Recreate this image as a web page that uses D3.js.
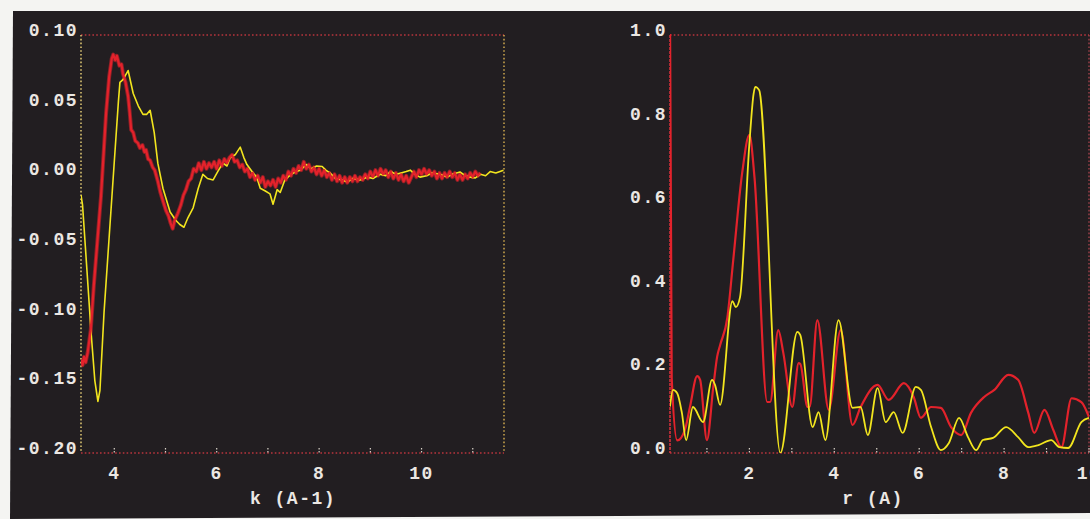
<!DOCTYPE html>
<html>
<head>
<meta charset="utf-8">
<script src="https://cdn.jsdelivr.net/npm/d3@7"></script>
<style>
  html, body { margin: 0; padding: 0; background: #f4f4f2; }
  svg { display: block; }
  .lbl { font-family: "Liberation Mono", monospace; font-weight: bold; font-size: 18px; fill: #ebe7e3; letter-spacing: 1.5px; }
</style>
</head>
<body>
<div id="chart"></div>
<script>
// ---- data ----
// left panel: chi(k)
const kMajor = [4, 6, 8, 10];
const kMinor = [5, 7, 9, 11];
const chiTicks = [0.10, 0.05, 0.00, -0.05, -0.10, -0.15, -0.20];

const chiYellow = [
  [3.35,-0.015],[3.38,-0.022],[3.45,-0.06],[3.55,-0.115],[3.62,-0.148],[3.68,-0.163],[3.72,-0.155],
  [3.8,-0.099],[3.9,-0.045],[4.0,0.009],[4.08,0.052],[4.11,0.066],[4.17,0.068],[4.27,0.0745],
  [4.37,0.058],[4.47,0.049],[4.56,0.043],[4.63,0.043],[4.70,0.046],[4.78,0.03],[4.85,0.008],
  [4.95,-0.01],[5.09,-0.027],[5.2,-0.033],[5.28,-0.036],[5.36,-0.038],[5.44,-0.031],[5.54,-0.024],
  [5.64,-0.01],[5.73,0.0],[5.82,-0.003],[5.93,-0.004],[6.02,0.002],[6.12,0.008],[6.2,0.006],
  [6.26,0.012],[6.36,0.014],[6.46,0.0195],[6.53,0.012],[6.59,0.007],[6.71,0.001],[6.78,-0.002],
  [6.85,-0.01],[6.95,-0.012],[7.04,-0.014],[7.1,-0.0215],[7.18,-0.011],[7.24,-0.013],[7.33,-0.004],
  [7.45,0.0],[7.55,0.002],[7.63,0.003],[7.75,0.007],[7.85,0.004],[7.95,0.006],[8.06,0.0056],
  [8.13,0.003],[8.21,0.001],[8.32,-0.003],[8.45,-0.004],[8.55,-0.0055],[8.65,-0.003],[8.8,-0.004],
  [8.95,-0.002],[9.05,-0.003],[9.19,0.0],[9.3,-0.001],[9.4,0.002],[9.5,0.0],[9.6,0.001],[9.7,0.002],
  [9.78,0.003],[9.87,0.0],[9.97,-0.002],[10.1,-0.001],[10.2,0.001],[10.36,0.0],[10.5,-0.002],
  [10.6,0.0],[10.75,0.0017],[10.85,-0.001],[10.95,-0.002],[11.05,-0.0026],[11.15,0.0],[11.25,-0.001],
  [11.34,0.002],[11.45,0.001],[11.6,0.003]
];

const chiRed = [
  [3.35,-0.133],[3.38,-0.137],[3.41,-0.131],[3.44,-0.135],[3.48,-0.128],[3.54,-0.112],[3.6,-0.08],
  [3.67,-0.048],[3.74,-0.016],[3.8,0.02],[3.84,0.044],[3.9,0.07],[3.95,0.083],[3.98,0.086],[4.02,0.082],
  [4.05,0.085],[4.1,0.078],[4.14,0.079],[4.17,0.072],[4.22,0.066],[4.27,0.056],[4.3,0.045],[4.33,0.032],
  [4.37,0.03],[4.41,0.024],[4.46,0.0225],[4.5,0.019],[4.55,0.021],[4.59,0.016],[4.62,0.0175],[4.66,0.011],
  [4.7,0.01],[4.75,0.005],[4.79,0.003],[4.85,-0.005],[4.9,-0.013],[4.95,-0.019],[5.01,-0.026],[5.06,-0.03],
  [5.1,-0.035],[5.14,-0.039],[5.18,-0.033],[5.24,-0.028],[5.3,-0.022],[5.35,-0.015],[5.4,-0.011],
  [5.45,-0.005],[5.5,-0.003],[5.55,0.004],[5.6,0.002],[5.65,0.008],[5.7,0.003],[5.75,0.009],[5.8,0.004],
  [5.85,0.008],[5.9,0.005],[5.95,0.009],[6.0,0.004],[6.05,0.01],[6.1,0.006],[6.15,0.011],[6.2,0.008],
  [6.25,0.012],[6.3,0.014],[6.35,0.009],[6.4,0.01],[6.45,0.005],[6.5,0.007],[6.55,0.002],[6.6,0.004],
  [6.65,-0.002],[6.7,0.001],[6.75,-0.004],[6.8,-0.001],[6.85,-0.006],[6.9,-0.002],[6.95,-0.009],
  [7.0,-0.005],[7.05,-0.008],[7.1,-0.004],[7.15,-0.009],[7.2,-0.003],[7.25,-0.006],[7.3,-0.001],
  [7.35,-0.004],[7.4,0.002],[7.45,-0.001],[7.5,0.004],[7.55,0.001],[7.6,0.006],[7.65,0.003],[7.7,0.009],
  [7.75,0.004],[7.8,0.007],[7.85,0.002],[7.9,0.005],[7.95,0.0],[8.0,0.004],[8.05,-0.001],[8.1,0.003],
  [8.15,-0.002],[8.2,0.001],[8.25,-0.004],[8.3,0.0],[8.35,-0.005],[8.4,-0.001],[8.45,-0.006],[8.5,-0.002],
  [8.55,-0.006],[8.6,-0.002],[8.65,-0.005],[8.7,-0.001],[8.75,-0.005],[8.8,-0.002],[8.85,-0.004],
  [8.9,0.0],[8.95,-0.003],[9.0,0.002],[9.05,-0.002],[9.1,0.003],[9.15,-0.001],[9.2,0.004],[9.25,0.0],
  [9.3,0.003],[9.35,-0.002],[9.4,0.002],[9.45,-0.003],[9.5,0.001],[9.55,-0.004],[9.6,0.0],[9.65,-0.005],
  [9.7,-0.001],[9.75,-0.006],[9.8,-0.002],[9.85,0.002],[9.9,-0.002],[9.95,0.003],[10.0,0.0],[10.05,0.004],
  [10.1,0.0],[10.15,0.003],[10.2,-0.001],[10.25,0.002],[10.3,-0.003],[10.35,0.001],[10.4,-0.003],
  [10.45,0.001],[10.5,-0.002],[10.55,0.002],[10.6,-0.002],[10.65,0.001],[10.7,-0.004],[10.75,0.0],
  [10.8,-0.004],[10.85,0.0],[10.9,-0.003],[10.95,0.001],[11.0,-0.002],[11.05,0.002],[11.1,-0.001],[11.15,0.001]
];

// right panel: |FT| vs r
const rMajor = [2, 4, 6, 8, 10];
const rMinor = [1, 3, 5, 7, 9];
const ftTicks = [0.0, 0.2, 0.4, 0.6, 0.8, 1.0];

const ftYellow = [
  [0.13,0.111],[0.2,0.151],[0.3,0.143],[0.41,0.096],[0.51,0.031],[0.67,0.11],[0.91,0.074],[1.12,0.175],
  [1.19,0.163],[1.31,0.115],[1.6,0.363],[1.68,0.349],[1.78,0.373],[2.0,0.74],[2.1,0.86],[2.14,0.876],
  [2.23,0.868],[2.73,0.0],[3.13,0.29],[3.2,0.282],[3.49,0.062],[3.63,0.098],[3.79,0.031],[4.1,0.318],
  [4.43,0.108],[4.62,0.11],[4.79,0.043],[5.02,0.155],[5.21,0.074],[5.40,0.098],[5.61,0.048],[5.92,0.158],
  [6.04,0.151],[6.28,0.062],[6.51,0.007],[6.7,0.024],[6.94,0.084],[7.15,0.038],[7.34,0.007],[7.5,0.031],
  [7.74,0.036],[8.05,0.062],[8.33,0.038],[8.57,0.014],[8.81,0.019],[9.11,0.031],[9.3,0.014],[9.51,0.012],
  [9.82,0.074],[10.0,0.084]
];

const ftRed = [
  [0.13,1.05],[0.17,0.18],[0.3,0.03],[0.48,0.055],[0.6,0.11],[0.77,0.184],[0.84,0.175],[1.0,0.031],
  [1.15,0.158],[1.24,0.23],[1.31,0.258],[1.48,0.323],[1.62,0.462],[1.83,0.67],[2.0,0.761],[2.12,0.66],
  [2.42,0.122],[2.49,0.122],[2.68,0.294],[2.8,0.239],[3.01,0.11],[3.16,0.215],[3.2,0.213],[3.37,0.11],
  [3.42,0.11],[3.6,0.318],[3.87,0.103],[4.15,0.294],[4.43,0.067],[4.62,0.11],[5.02,0.163],[5.28,0.127],
  [5.64,0.167],[5.87,0.134],[6.04,0.084],[6.28,0.11],[6.51,0.108],[6.75,0.062],[6.99,0.043],[7.22,0.096],
  [7.53,0.134],[7.77,0.151],[8.1,0.187],[8.33,0.175],[8.57,0.096],[8.71,0.048],[8.95,0.103],[9.16,0.055],
  [9.35,0.014],[9.59,0.131],[9.82,0.122],[10.0,0.086]
];

// ---- layout ----
const W = 1090, H = 519;
const yellow = "#f2e51e", red = "#e3222b";
const plotTop = 35, plotBottom = 453;

const svg = d3.select("#chart").append("svg")
    .attr("width", W).attr("height", H);

// dark photo background (scan has white edges top and bottom-right)
svg.append("path")
    .attr("d", `M13,11 L${W},11 L${W},513 L620,516 L10,519 Z`)
    .attr("fill", "#221e21");

function panel(opts) {
  const x = d3.scaleLinear().domain(opts.xDomain).range([opts.left, opts.right]);
  const y = d3.scaleLinear().domain(opts.yDomain).range([plotBottom, plotTop]);
  const g = svg.append("g");

  const clipId = opts.id + "-clip";
  svg.append("clipPath").attr("id", clipId)
    .append("rect")
    .attr("x", opts.left).attr("y", plotTop - 1)
    .attr("width", opts.right - opts.left).attr("height", plotBottom - plotTop + 1);

  // frame: dotted top/bottom in red, sides in the side colour
  const dash = "1.6,2.2";
  g.append("line").attr("x1", opts.left).attr("x2", opts.right).attr("y1", plotTop).attr("y2", plotTop)
    .attr("stroke", "#b8343c").attr("stroke-width", 1.3).attr("stroke-dasharray", dash);
  g.append("line").attr("x1", opts.left).attr("x2", opts.right).attr("y1", plotBottom).attr("y2", plotBottom)
    .attr("stroke", "#b8343c").attr("stroke-width", 1.3).attr("stroke-dasharray", dash);
  g.append("line").attr("x1", opts.left).attr("x2", opts.left).attr("y1", plotTop).attr("y2", plotBottom)
    .attr("stroke", opts.sideColor).attr("stroke-width", 1.6).attr("stroke-dasharray", opts.leftDash);
  g.append("line").attr("x1", opts.right).attr("x2", opts.right).attr("y1", plotTop).attr("y2", plotBottom)
    .attr("stroke", opts.rightColor).attr("stroke-width", 1.4).attr("stroke-dasharray", dash);

  // x ticks (small marks above the bottom line)
  g.selectAll(".xt").data(opts.xMajor.concat(opts.xMinor)).join("line")
    .attr("x1", d => x(d)).attr("x2", d => x(d))
    .attr("y1", plotBottom - 5).attr("y2", plotBottom)
    .attr("stroke", "#d9d2c8").attr("stroke-width", 1.2).attr("stroke-dasharray", "1.5,1.5");

  g.selectAll(".xl").data(opts.xMajor).join("text")
    .attr("class", "lbl")
    .attr("x", d => x(d)).attr("y", plotBottom + 26)
    .attr("text-anchor", "middle")
    .text(d => d);

  g.selectAll(".yl").data(opts.yTicks).join("text")
    .attr("class", "lbl")
    .attr("x", opts.left - 3).attr("y", d => y(d) + 1)
    .attr("text-anchor", "end")
    .text(d => d3.format(opts.yFormat)(d).replace("−", "-"));

  g.append("text")
    .attr("class", "lbl")
    .attr("x", opts.titleX).attr("y", 504)
    .attr("text-anchor", "middle")
    .text(opts.title);

  const line = d3.line().x(d => x(d[0])).y(d => y(d[1])).curve(opts.curve);
  const lines = g.append("g").attr("clip-path", `url(#${clipId})`);
  opts.series.forEach(s => {
    lines.append("path")
      .datum(s.data)
      .attr("fill", "none")
      .attr("stroke", s.color)
      .attr("stroke-width", s.width)
      .attr("stroke-linejoin", "round")
      .attr("opacity", s.opacity || 1)
      .attr("d", line);
  });
}

panel({
  id: "chi", left: 81, right: 504,
  xDomain: [3.35, 11.61], yDomain: [-0.20, 0.10],
  xMajor: kMajor, xMinor: kMinor, yTicks: chiTicks, yFormat: ".2f",
  sideColor: "#d8c070", rightColor: "#d8b050", leftDash: "1.6,2.2",
  title: "k (A-1)", titleX: 293,
  curve: d3.curveLinear,
  series: [
    {data: chiRed, color: red, width: 4, opacity: 0.55},
    {data: chiYellow, color: yellow, width: 1.6},
    {data: chiRed, color: red, width: 2.2}
  ]
});

panel({
  id: "ft", left: 670, right: 1089,
  xDomain: [0.13, 10.0], yDomain: [0, 1.0],
  xMajor: rMajor, xMinor: rMinor, yTicks: ftTicks, yFormat: ".1f",
  sideColor: "#d0303a", rightColor: "#a0404a", leftDash: "3,1",
  title: "r (A)", titleX: 873,
  curve: d3.curveMonotoneX,
  series: [
    {data: ftRed, color: red, width: 2.2},
    {data: ftYellow, color: yellow, width: 1.8}
  ]
});
</script>
</body>
</html>
